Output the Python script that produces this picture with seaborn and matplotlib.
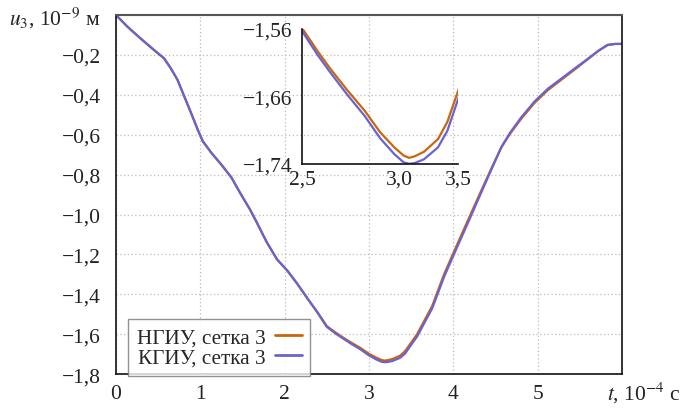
import numpy as np
import pandas as pd
import matplotlib
matplotlib.use("Agg")
import matplotlib.pyplot as plt
import seaborn as sns

# ---- data ----
t = [0.00, 0.135, 0.29, 0.45, 0.57, 0.65, 0.73, 0.81, 0.89, 0.97, 1.03, 1.13, 1.25,
     1.37, 1.47, 1.59, 1.67, 1.79, 1.91, 2.03, 2.15, 2.27, 2.39,
     2.50, 2.60, 2.68, 2.79, 2.90, 3.00, 3.09, 3.15, 3.185, 3.22, 3.28, 3.37, 3.43, 3.50,
     3.57, 3.75, 3.89, 4.03, 4.17, 4.31, 4.45, 4.57, 4.67, 4.80, 4.96, 5.12, 5.28,
     5.44, 5.60, 5.72, 5.83, 5.92, 6.00]
u_ngiu = [0.000, -0.058, -0.117, -0.175, -0.217, -0.267, -0.325, -0.408, -0.490, -0.575,
          -0.633, -0.690, -0.750, -0.815, -0.890, -0.975, -1.040, -1.140, -1.225, -1.280,
          -1.347, -1.420, -1.490,
          -1.559, -1.590, -1.613, -1.642, -1.669, -1.698, -1.718, -1.729, -1.732, -1.730,
          -1.724, -1.707, -1.684, -1.642,
          -1.600, -1.458, -1.300, -1.165, -1.032, -0.900, -0.770, -0.663, -0.597, -0.523,
          -0.442, -0.377, -0.325, -0.273, -0.220, -0.180, -0.150, -0.145, -0.145]
u_kgiu = [0.000, -0.058, -0.117, -0.175, -0.217, -0.267, -0.325, -0.408, -0.490, -0.575,
          -0.633, -0.690, -0.750, -0.815, -0.890, -0.975, -1.040, -1.140, -1.225, -1.280,
          -1.347, -1.420, -1.492,
          -1.563, -1.595, -1.618, -1.648, -1.676, -1.706, -1.727, -1.738, -1.740, -1.739,
          -1.734, -1.718, -1.696, -1.653,
          -1.612, -1.470, -1.313, -1.178, -1.045, -0.910, -0.776, -0.662, -0.592, -0.516,
          -0.435, -0.370, -0.319, -0.268, -0.218, -0.179, -0.150, -0.145, -0.145]

labels = ["НГИУ, сетка 3", "КГИУ, сетка 3"]
colors = ["#c8660c", "#6a62d2"]

x_ticks = [0, 1, 2, 3, 4, 5, 6]
x_ticklabels = ["0", "1", "2", "3", "4", "5", ""]
x_title = r"$t$, 10$^{-4}$ с"
y_ticks = [0, -0.2, -0.4, -0.6, -0.8, -1.0, -1.2, -1.4, -1.6, -1.8]
y_ticklabels = [r"$u_3$, 10$^{-9}$ м", "−0,2", "−0,4", "−0,6", "−0,8", "−1,0",
                "−1,2", "−1,4", "−1,6", "−1,8"]

ins_xticks = [2.5, 3.12, 3.5]
ins_xticklabels = ["2,5", "3,0", "3,5"]
ins_yticks = [-1.56, -1.65, -1.74]
ins_yticklabels = ["−1,56", "−1,66", "−1,74"]

df = pd.DataFrame({
    "t": t + t,
    "u": u_ngiu + u_kgiu,
    "series": [labels[0]] * len(t) + [labels[1]] * len(t),
})

# ---- style ----
sns.set_style("white")
plt.rcParams["font.family"] = ["Liberation Serif", "DejaVu Serif"]
plt.rcParams["mathtext.fontset"] = "stix"

fig = plt.figure(figsize=(6.82, 4.10), dpi=100)
ax = fig.add_axes([0.170, 0.085, 0.742, 0.876])

sns.lineplot(data=df, x="t", y="u", hue="series", palette=colors,
             hue_order=labels, linewidth=1.6, ax=ax, legend=True)

ax.set_xlim(0, 6)
ax.set_ylim(-1.8, 0)
ax.set_xticks(x_ticks)
ax.set_xticklabels(x_ticklabels)
ax.set_yticks(y_ticks)
ax.set_yticklabels(y_ticklabels)
ax.set_xlabel("")
ax.set_ylabel("")
ax.text(0.970, -0.072, x_title, transform=ax.transAxes, ha="left", va="baseline",
        fontsize=15.5, color="#222222")
ax.tick_params(axis="both", length=0, labelsize=15.5, colors="#222222")
ax.tick_params(axis="y", pad=11)
ax.tick_params(axis="x", pad=7)
ax.grid(True, linestyle=(0, (1, 2)), color="#bcbcbc", linewidth=0.9)
for s in ["left", "bottom", "right"]:
    ax.spines[s].set_color("#111111")
    ax.spines[s].set_linewidth(1.2)
ax.spines["top"].set_color("#555555")
ax.spines["top"].set_linewidth(1.5)

leg = ax.legend(loc="lower left", bbox_to_anchor=(0.024, -0.004), borderaxespad=0,
                fontsize=15.3, markerfirst=False, frameon=True, fancybox=False,
                handlelength=1.25, handletextpad=0.47, borderpad=0.4,
                labelspacing=0.0)
leg.get_frame().set_edgecolor("#777777")
leg.get_frame().set_linewidth(1.0)
for line in leg.get_lines():
    line.set_linewidth(2.0)

# ---- inset ----
ins = fig.add_axes([0.443, 0.598, 0.229, 0.329])
ins.patch.set_alpha(0)
sns.lineplot(data=df, x="t", y="u", hue="series", palette=colors,
             hue_order=labels, linewidth=1.6, ax=ins, legend=False)
ins.set_xlim(2.5, 3.5)
ins.set_ylim(-1.74, -1.56)
ins.set_xticks(ins_xticks)
ins.set_xticklabels(ins_xticklabels)
ins.set_yticks(ins_yticks)
ins.set_yticklabels(ins_yticklabels)
ins.set_xlabel("")
ins.set_ylabel("")
ins.tick_params(axis="both", length=0, labelsize=15.5, colors="#222222")
ins.tick_params(axis="y", pad=7)
ins.tick_params(axis="x", pad=4)
ins.grid(False)
ins.spines["top"].set_visible(False)
ins.spines["right"].set_visible(False)
for s in ["left", "bottom"]:
    ins.spines[s].set_color("#111111")
    ins.spines[s].set_linewidth(1.2)

fig.savefig("out.png", dpi=100)
